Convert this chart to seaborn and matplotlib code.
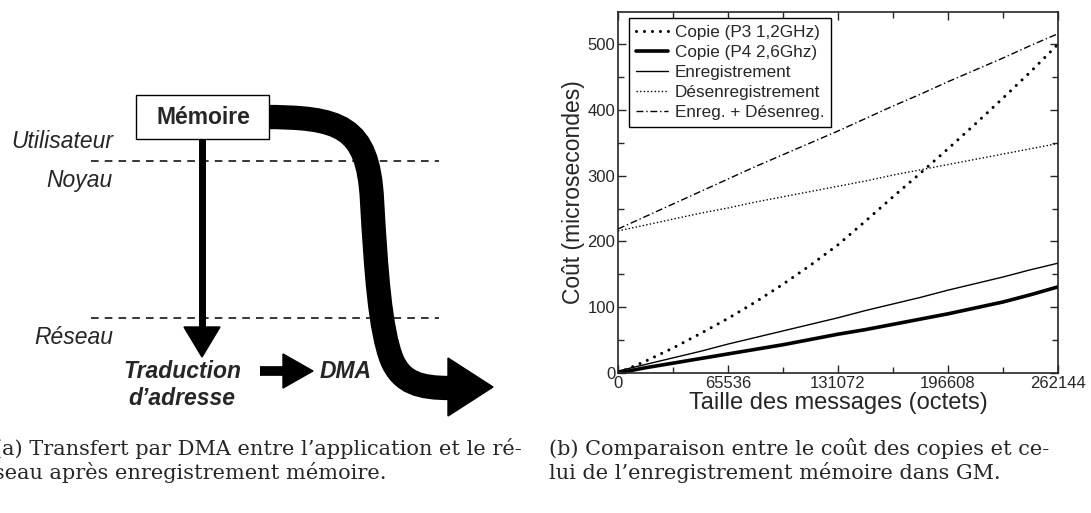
import numpy as np
import pandas as pd
import seaborn as sns
from matplotlib import pyplot as plt
from matplotlib.path import Path
from matplotlib.patches import PathPatch, Polygon, Rectangle
from matplotlib.ticker import MultipleLocator, FixedLocator

sns.set_style("ticks")
plt.rcParams['font.family'] = ['Liberation Sans', 'DejaVu Sans']

# taille des messages (octets)
taille = [0, 16384, 32768, 49152, 65536, 81920, 98304, 114688, 131072,
          147456, 163840, 180224, 196608, 212992, 229376, 245760, 262144]
copie_p3 = [0, 18, 38, 60, 83, 108, 135, 164, 195, 231, 268, 304, 341, 379, 418, 458, 500]
copie_p4 = [0, 8, 15, 22, 29, 36, 43, 51, 59, 66, 74, 82, 90, 99, 108, 119, 131]
enreg = [3, 13, 23, 33, 44, 54, 64, 74, 84, 95, 105, 115, 126, 136, 146, 157, 167]
desenreg = [216, 225, 234, 243, 251, 260, 268, 276, 284, 292, 301, 309, 317, 325, 333, 341, 349]
enreg_desenreg = [219, 238, 257, 276, 295, 314, 332, 350, 368, 387, 406, 424, 443, 461, 479, 498, 516]

series = ["Copie (P3 1,2GHz)", "Copie (P4 2,6Ghz)", "Enregistrement",
          "Désenregistrement", "Enreg. + Désenreg."]
x_ticks = [0, 65536, 131072, 196608, 262144]

caption_a = ["(a) Transfert par DMA entre l’application et le ré-",
             "seau après enregistrement mémoire."]
caption_b = ["(b) Comparaison entre le coût des copies et ce-",
             "lui de l’enregistrement mémoire dans GM."]

df = pd.DataFrame({
    "taille": taille * 5,
    "cout": copie_p3 + copie_p4 + enreg + desenreg + enreg_desenreg,
    "serie": [s for s in series for _ in taille],
})

styles = {
    "Copie (P3 1,2GHz)": dict(lw=2.2, linestyle=(0, (0.01, 2.6)), dash_capstyle="round"),
    "Copie (P4 2,6Ghz)": dict(lw=2.6, linestyle="-"),
    "Enregistrement": dict(lw=1.0, linestyle="-"),
    "Désenregistrement": dict(lw=1.0, linestyle=(0, (1, 1.6))),
    "Enreg. + Désenreg.": dict(lw=1.0, linestyle=(0, (5, 2, 1, 2))),
}

W, H = 1091, 513
fig = plt.figure(figsize=(W / 100, H / 100), dpi=100)

# ---- (a) schema ----
axd = fig.add_axes([0, 0, 1, 1])
axd.set_xlim(0, W)
axd.set_ylim(H, 0)
axd.axis("off")

for yl in (161, 318):
    axd.plot([91, 439], [yl, yl], color="black", lw=1.1, linestyle=(0, (5, 4)))

big = Path([(262, 117), (340, 117), (368, 125), (372, 200),
            (376, 270), (380, 330), (392, 360),
            (402, 383), (420, 388), (450, 388)],
           [Path.MOVETO, Path.CURVE4, Path.CURVE4, Path.CURVE4,
            Path.CURVE4, Path.CURVE4, Path.CURVE4,
            Path.CURVE4, Path.CURVE4, Path.CURVE4])
axd.add_patch(PathPatch(big, fill=False, lw=17.5, edgecolor="black", capstyle="butt"))
axd.add_patch(Polygon([(448, 358), (448, 416), (493, 387)], color="black"))

axd.add_patch(Rectangle((136, 95), 133, 44, facecolor="white", edgecolor="black", lw=1, zorder=3))
axd.text(203, 118, "Mémoire", ha="center", va="center", fontsize=16.5, fontweight="bold", zorder=4)

axd.plot([202, 202], [139, 328], color="black", lw=5, solid_capstyle="butt")
axd.add_patch(Polygon([(184, 327), (220, 327), (202, 357)], color="black"))
axd.plot([260, 284], [371, 371], color="black", lw=7, solid_capstyle="butt")
axd.add_patch(Polygon([(283, 354), (283, 388), (313, 371)], color="black"))

for txt, yt in (("Utilisateur", 141), ("Noyau", 180), ("Réseau", 337)):
    axd.text(113, yt, txt, ha="right", va="center", fontsize=16.5, style="italic")
axd.text(182, 385, "Traduction\nd’adresse", ha="center", va="center", fontsize=16.5,
         style="italic", fontweight="bold", linespacing=1.25)
axd.text(320, 371, "DMA", ha="left", va="center", fontsize=16.5, style="italic", fontweight="bold")

cap_font = dict(fontsize=15, family=["DejaVu Serif"], va="baseline")
capa = [axd.text(0, yb, line, ha="left", **cap_font) for line, yb in zip(caption_a, (455, 479))]
for line, yb in zip(caption_b, (455, 479)):
    axd.text(549, yb, line, ha="left", **cap_font)

# ---- (b) courbe ----
ax = fig.add_axes([618 / W, 1 - 373 / H, 440 / W, 361 / H])
for name in series:
    sns.lineplot(data=df[df["serie"] == name], x="taille", y="cout", ax=ax,
                 color="black", label=name, **styles[name])

ax.set_xlim(0, 262144)
ax.set_ylim(0, 549)
ax.xaxis.set_major_locator(FixedLocator(x_ticks))
ax.set_xticklabels([str(t) for t in x_ticks])
ax.xaxis.set_minor_locator(MultipleLocator(32768))
ax.yaxis.set_major_locator(MultipleLocator(100))
ax.yaxis.set_minor_locator(MultipleLocator(50))
ax.tick_params(which="both", direction="in", top=True, right=True, labelsize=12, pad=2, width=1)
ax.tick_params(which="major", length=6)
ax.tick_params(which="minor", length=4)
for sp in ax.spines.values():
    sp.set_linewidth(1.2)
ax.set_xlabel("Taille des messages (octets)", fontsize=17, labelpad=1)
ax.set_ylabel("Coût (microsecondes)", fontsize=16.5, labelpad=2)

leg = ax.legend(loc="upper left", bbox_to_anchor=(11 / 440, 1 - 6 / 361), borderaxespad=0,
                fontsize=12.3, frameon=True, fancybox=False, framealpha=1, edgecolor="black",
                handlelength=1.9, handletextpad=0.4, labelspacing=0.3, borderpad=0.4)
leg.get_frame().set_linewidth(1)

# legende (a) coupee a gauche comme dans l'original : fin de la 1re ligne a x=522
fig.canvas.draw()
w1 = capa[0].get_window_extent(fig.canvas.get_renderer()).width
for t in capa:
    t.set_x(522 - w1)

fig.savefig("out.png", dpi=100)
